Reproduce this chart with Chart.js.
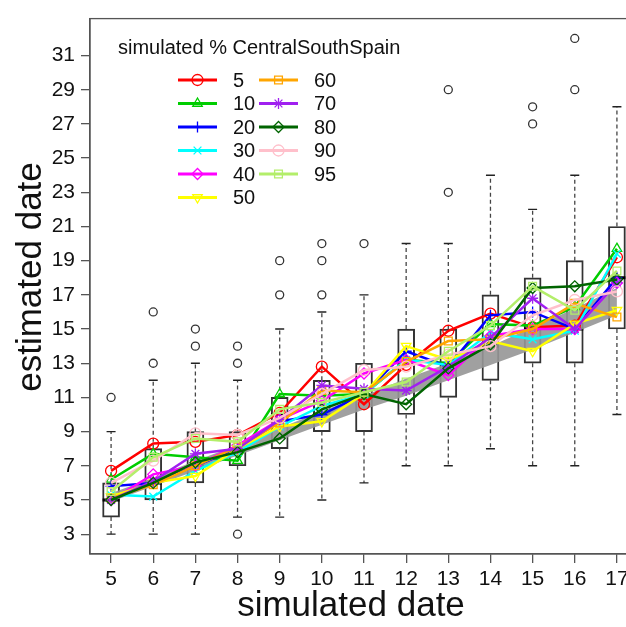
<!DOCTYPE html>
<html>
<head>
<meta charset="utf-8">
<script src="https://cdn.jsdelivr.net/npm/chart.js@4.4.0/dist/chart.umd.min.js"></script>
<style>
  html, body { margin: 0; padding: 0; background: #fff; overflow: hidden; }
  #wrap { width: 650px; height: 627px; }
</style>
</head>
<body>
<div id="wrap"><canvas id="chart" width="650" height="627"></canvas></div>
<script>
// simulated date categories
const simDates = [5, 6, 7, 8, 9, 10, 11, 12, 13, 14, 15, 16, 17];
const yTicks = [3, 5, 7, 9, 11, 13, 15, 17, 19, 21, 23, 25, 27, 29, 31];

// boxplot stats (per simulated date)
const boxLo  = [3, 3, 3, 4, 4, 5, 6, 7, 7, 8, 7, 7, 10];
const boxQ1  = [4, 5, 6, 7, 8, 9, 9, 10, 11, 12, 13, 13, 15];
const boxMed = [5, 6, 7, 8, 10, 10, 11, 13, 13, 14, 15, 15, 18];
const boxQ3  = [6, 8, 9, 9, 11, 12, 13, 15, 15, 17, 18, 19, 21];
const boxHi  = [9, 12, 13, 12, 15, 16, 17, 20, 20, 24, 22, 24, 28];
const outlierCat = [5, 6, 6, 7, 7, 8, 8, 8, 9, 9, 10, 10, 10, 11, 13, 13, 15, 15, 16, 16];
const outlierVal = [11, 13, 16, 14, 15, 13, 14, 3, 17, 19, 17, 19, 20, 20, 23, 29, 27, 28, 29, 32];

// grey band
const bandLow  = [4.9, 5.8, 6.7, 7.6, 8.5, 9.4, 10.3, 11.1, 12.0, 12.9, 13.8, 14.8, 15.8];
const bandHigh = [5.4, 6.3, 7.3, 8.2, 9.2, 10.2, 11.1, 12.1, 13.0, 14.0, 15.1, 16.2, 17.4];

// estimated dates per simulated % CentralSouthSpain
const sim5  = [6.7, 8.3, 8.4, 8.8, 10.1, 12.8, 10.6, 12.9, 14.9, 15.9, 15.1, 15.2, 19.2];
const sim10 = [6.2, 7.7, 7.5, 7.3, 11.2, 11.1, 11.2, 13.2, 13.0, 15.3, 15.2, 16.3, 19.7];
const sim20 = [5.8, 6.0, 7.0, 8.0, 9.6, 10.0, 11.2, 13.7, 12.8, 15.8, 16.0, 15.0, 18.0];
const sim30 = [5.3, 5.2, 6.7, 7.8, 9.3, 10.5, 11.2, 13.2, 12.9, 14.8, 14.4, 14.9, 19.4];
const sim40 = [5.0, 6.5, 7.0, 8.2, 9.7, 10.8, 12.4, 13.2, 12.3, 14.6, 15.0, 15.0, 17.7];
const sim50 = [5.2, 6.0, 6.4, 8.0, 9.3, 9.6, 11.2, 14.0, 13.2, 14.3, 13.7, 15.3, 16.1];
const sim60 = [5.1, 5.9, 7.0, 8.1, 9.5, 11.4, 11.3, 13.1, 14.3, 14.4, 15.0, 16.5, 15.7];
const sim70 = [5.0, 6.1, 7.7, 8.0, 9.7, 11.7, 11.5, 11.4, 12.8, 14.5, 16.8, 15.0, 17.7];
const sim80 = [5.0, 6.0, 7.2, 7.8, 8.6, 10.3, 11.2, 10.6, 12.7, 14.1, 17.4, 17.5, 17.9];
const sim90 = [6.0, 7.3, 8.9, 8.8, 9.8, 11.2, 12.6, 12.8, 13.5, 14.0, 15.8, 16.7, 17.2];
const sim95 = [5.5, 7.5, 8.6, 8.4, 10.3, 10.7, 11.3, 11.9, 13.7, 15.2, 17.5, 16.1, 18.4];

const seriesNames = ['5', '10', '20', '30', '40', '50', '60', '70', '80', '90', '95'];
const seriesData = [sim5, sim10, sim20, sim30, sim40, sim50, sim60, sim70, sim80, sim90, sim95];
const legendTitle = 'simulated % CentralSouthSpain';
const xTitle = 'simulated date';
const yTitle = 'estimated date';

const colors = ['#FF0000', '#00CD00', '#0000FF', '#00FFFF', '#FF00FF', '#FFFF00',
                '#FFA500', '#A020F0', '#006400', '#FFC0CB', '#B3EE6A'];
const styles = [
  {s: 'circle', r: 0}, {s: 'triangle', r: 0}, {s: 'cross', r: 0}, {s: 'crossRot', r: 0},
  {s: 'rectRot', r: 0}, {s: 'triangle', r: 180}, {s: 'rect', r: 0}, {s: 'star', r: 0},
  {s: 'rectRot', r: 0}, {s: 'circle', r: 0}, {s: 'rect', r: 0}
];

const FONT = '"Liberation Sans", Arial, sans-serif';
const pts = (arr) => simDates.map((d, i) => ({x: d, y: arr[i]}));

// whisker segments, separated by gaps
const whiskerPts = [];
simDates.forEach((d, i) => {
  whiskerPts.push({x: d, y: boxQ1[i]}, {x: d, y: boxLo[i]}, {x: d, y: null});
  whiskerPts.push({x: d, y: boxQ3[i]}, {x: d, y: boxHi[i]}, {x: d, y: null});
});
const capPts = [];
simDates.forEach((d, i) => { capPts.push({x: d, y: boxLo[i]}, {x: d, y: boxHi[i]}); });

const datasets = [];
datasets.push({
  type: 'bar', label: 'box',
  data: simDates.map((d, i) => ({x: d, y: [boxQ1[i], boxQ3[i]]})),
  backgroundColor: 'rgba(255,255,255,0)', borderColor: '#333', borderWidth: 1.3,
  borderSkipped: false, barThickness: 17, order: 60
});
datasets.push({
  type: 'line', label: 'whisker', data: whiskerPts, spanGaps: false,
  borderColor: '#444', borderWidth: 1.3, borderDash: [4, 3], pointRadius: 0, order: 59
});
datasets.push({
  type: 'scatter', label: 'cap', data: capPts, pointStyle: 'line', pointRadius: 4.5,
  borderColor: '#222', borderWidth: 1.4, order: 58
});
datasets.push({
  type: 'scatter', label: 'median', data: pts(boxMed), pointStyle: 'line', pointRadius: 8.5,
  borderColor: '#000', borderWidth: 3, order: 57
});
datasets.push({
  type: 'scatter', label: 'outlier',
  data: outlierCat.map((c, i) => ({x: c, y: outlierVal[i]})),
  pointStyle: 'circle', pointRadius: 4, borderColor: '#333', borderWidth: 1.3,
  backgroundColor: 'rgba(0,0,0,0)', order: 56
});
datasets.push({
  type: 'line', label: 'bandLow', data: pts(bandLow), borderWidth: 0, pointRadius: 0,
  borderColor: 'rgba(0,0,0,0)', fill: false, order: 41
});
datasets.push({
  type: 'line', label: 'bandHigh', data: pts(bandHigh), borderWidth: 0, pointRadius: 0,
  borderColor: 'rgba(0,0,0,0)', backgroundColor: 'rgba(150,150,150,0.9)', fill: '-1', order: 40
});
seriesData.forEach((arr, i) => {
  datasets.push({
    type: 'line', label: seriesNames[i], data: pts(arr),
    borderColor: colors[i], borderWidth: 2.5,
    pointStyle: styles[i].s, rotation: styles[i].r, pointRadius: 5.5,
    pointBorderWidth: 1.3, pointBorderColor: colors[i],
    pointBackgroundColor: 'rgba(0,0,0,0)', tension: 0, order: 20 - i
  });
});

const frame = {
  id: 'frame',
  beforeDatasetsDraw(chart) {
    const {ctx, chartArea: a} = chart;
    ctx.save();
    ctx.strokeStyle = '#555';
    ctx.lineWidth = 1.3;
    ctx.strokeRect(a.left, a.top, a.right - a.left, a.bottom - a.top);
    ctx.restore();
  }
};

// axis titles, placed like the R output
const axisTitles = {
  id: 'axisTitles',
  afterDraw(chart) {
    const {ctx} = chart;
    ctx.save();
    ctx.font = '35px ' + FONT;
    ctx.fillStyle = '#111';
    ctx.textAlign = 'center';
    ctx.textBaseline = 'middle';
    ctx.fillText(xTitle, 351, 606);
    ctx.translate(31, 277);
    ctx.rotate(-Math.PI / 2);
    ctx.fillText(yTitle, 0, 0);
    ctx.restore();
  }
};

const legendBox = {
  id: 'legendBox',
  afterDraw(chart) {
    const {ctx} = chart;
    ctx.save();
    ctx.font = '20px ' + FONT;
    ctx.fillStyle = '#111';
    ctx.textBaseline = 'middle';
    ctx.textAlign = 'left';
    ctx.fillText(legendTitle, 118, 48);
    seriesNames.forEach((name, i) => {
      const col = i < 6 ? 0 : 1;
      const row = col ? i - 6 : i;
      const x0 = col ? 259 : 178;
      const y = 80 + row * 23.5;
      ctx.strokeStyle = colors[i];
      ctx.lineWidth = 3;
      ctx.beginPath();
      ctx.moveTo(x0, y);
      ctx.lineTo(x0 + 39, y);
      ctx.stroke();
      ctx.lineWidth = 1.3;
      ctx.fillStyle = 'rgba(0,0,0,0)';
      Chart.helpers.drawPoint(ctx, {pointStyle: styles[i].s, rotation: styles[i].r, radius: 5.5, borderWidth: 1.3}, x0 + 19.5, y);
      ctx.fillStyle = '#111';
      ctx.fillText(name, col ? 314 : 233, y + 1);
    });
    ctx.restore();
  }
};

new Chart(document.getElementById('chart'), {
  data: {datasets},
  options: {
    responsive: false,
    animation: false,
    layout: {padding: {left: 0, top: 12, right: 12, bottom: 0}},
    plugins: {legend: {display: false}, tooltip: {enabled: false}},
    scales: {
      x: {
        type: 'linear', min: 4.5, max: 17.5, offset: false,
        afterBuildTicks: (s) => { s.ticks = simDates.map(v => ({value: v})); },
        afterFit: (s) => { s.height = 73; },
        grid: {offset: false, drawOnChartArea: false, drawTicks: true, tickLength: 9, color: '#555', lineWidth: 1.3},
        border: {display: true, color: '#555', width: 1.3},
        ticks: {color: '#111', font: {family: FONT, size: 21}, padding: 4, maxRotation: 0, autoSkip: false}
      },
      y: {
        type: 'linear', min: 1.84, max: 33.16,
        afterBuildTicks: (s) => { s.ticks = yTicks.map(v => ({value: v})); },
        afterFit: (s) => { s.width = 90; },
        grid: {drawOnChartArea: false, drawTicks: true, tickLength: 9, color: '#555', lineWidth: 1.3},
        border: {display: true, color: '#555', width: 1.3},
        ticks: {color: '#111', font: {family: FONT, size: 21}, padding: 6, autoSkip: false}
      }
    }
  },
  plugins: [frame, axisTitles, legendBox]
});
</script>
</body>
</html>
